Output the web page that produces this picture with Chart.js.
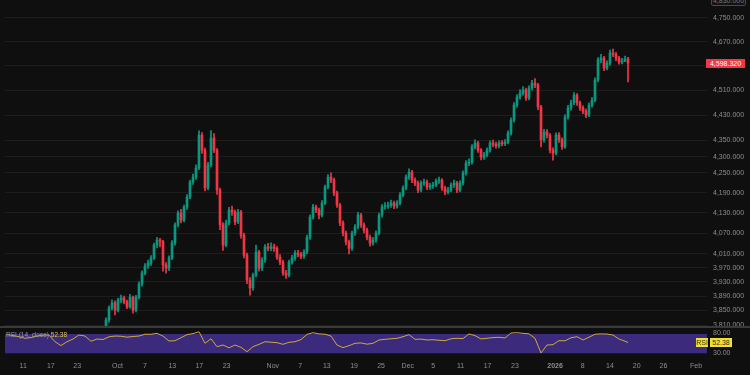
<!DOCTYPE html>
<html>
<head>
<meta charset="utf-8">
<script src="https://cdn.jsdelivr.net/npm/chart.js@4.4.1/dist/chart.umd.min.js"></script>
<style>
  body { margin: 0; background: #0f0f0f; }
  #wrap { position: relative; width: 750px; height: 375px; overflow: hidden; background: #0f0f0f;
          font-family: "Liberation Sans", Arial, sans-serif; }
  #mainBox { position: absolute; left: 0; top: 0; width: 750px; height: 327px; }
  #rsiBox { position: absolute; left: 0; top: 327px; width: 750px; height: 48px; }
  #sep { position: absolute; left: 0; top: 326px; width: 750px; height: 2px; background: #3a3a3a; }
  .tag { position: absolute; font-size: 7px; line-height: 9px; height: 9px; text-align: center; white-space: nowrap; }
  #priceTag { left: 706px; width: 39px; background: #f23645; color: #fff; }
  #topTag { left: 711px; top: -5px; width: 33px; border: 1px solid #4a4a4a; border-radius: 2px; color: #777; background: #141414; }
  #rsiName { left: 696px; width: 12px; background: #ece03a; color: #3b3500; }
  #rsiVal { left: 710px; width: 22px; background: #ece03a; color: #3b3500; }
  #rsiLegend { position: absolute; left: 6px; top: 331px; font-size: 6.5px; line-height: 8px; color: #9a9a9a; white-space: nowrap; }
  #rsiLegend span { color: #d9c43c; }
</style>
</head>
<body>
<div id="wrap">
  <div id="mainBox"><canvas id="main" width="750" height="327"></canvas></div>
  <div id="rsiBox"><canvas id="rsi" width="750" height="48"></canvas></div>
  <div id="sep"></div>
  <div id="topTag" class="tag">4,830.000</div>
  <div id="priceTag" class="tag"></div>
  <div id="rsiLegend">RSI (14, close) <span id="rsiLegendVal"></span></div>
  <div id="rsiName" class="tag">RSI</div>
  <div id="rsiVal" class="tag"></div>
</div>
<script>
// candles, one per slot starting at firstSlot
const firstSlot = 32;
const opens = [
  3770,3783,3796,3824,3857,3871,3851,3879,3885,3874,
  3860,3887,3851,3887,3924,3955,3975,3983,3998,4035,
  4050,4046,3978,3969,3998,4041,4094,4129,4108,4147,
  4177,4222,4237,4265,4367,4320,4204,4274,4358,4320,
  4198,4094,4035,4100,4138,4132,4103,4132,4064,4006,
  3935,3913,3949,4015,3969,3992,4030,4026,4030,4026,
  4000,3986,3955,3949,3986,3998,4012,4008,4003,4015,
  4058,4117,4147,4138,4123,4159,4207,4237,4228,4189,
  4153,4100,4070,4044,4026,4070,4088,4123,4094,4079,
  4058,4041,4050,4070,4123,4147,4150,4153,4159,4150,
  4159,4183,4204,4237,4252,4228,4219,4198,4219,4222,
  4207,4210,4213,4225,4228,4204,4192,4198,4213,4219,
  4198,4219,4249,4280,4283,4330,4342,4320,4298,4305,
  4320,4342,4338,4333,4342,4340,4345,4373,4414,4462,
  4488,4501,4511,4485,4517,4533,4527,4456,4352,4377,
  4367,4320,4311,4367,4352,4330,4424,4453,4469,4494,
  4469,4453,4443,4430,4462,4478,4543,4609,4615,4582,
  4598,4632,4628,4615,4602,4606,4612
];
const highs = [
  3790,3803,3830,3863,3880,3877,3884,3893,3890,3879,
  3895,3890,3892,3930,3961,3982,3992,4005,4041,4058,
  4055,4049,3985,4004,4048,4100,4136,4140,4153,4184,
  4228,4246,4275,4380,4375,4326,4282,4381,4372,4325,
  4204,4101,4108,4146,4150,4138,4140,4137,4070,4012,
  3942,3955,4035,4020,3999,4037,4040,4042,4038,4031,
  4008,3992,3963,3992,4006,4019,4020,4014,4022,4064,
  4124,4155,4153,4144,4166,4213,4245,4250,4234,4195,
  4158,4106,4076,4050,4076,4095,4131,4128,4100,4085,
  4064,4058,4077,4129,4154,4160,4162,4168,4165,4166,
  4190,4211,4244,4262,4258,4235,4225,4226,4231,4228,
  4218,4221,4232,4237,4233,4210,4206,4220,4228,4224,
  4226,4256,4288,4293,4337,4352,4347,4325,4313,4327,
  4349,4351,4345,4349,4350,4353,4380,4421,4470,4496,
  4512,4522,4517,4524,4542,4548,4532,4461,4385,4384,
  4372,4327,4374,4375,4358,4431,4461,4478,4502,4499,
  4475,4460,4449,4469,4487,4550,4617,4628,4621,4606,
  4642,4645,4634,4621,4614,4622,4618
];
const lows = [
  3765,3778,3790,3818,3852,3838,3846,3872,3868,3855,
  3856,3843,3846,3882,3918,3950,3968,3977,3993,4028,
  4030,3960,3955,3962,3993,4035,4088,4100,4103,4140,
  4172,4215,4230,4260,4310,4195,4198,4268,4312,4185,
  4080,4020,4030,4094,4122,4095,4098,4055,3998,3925,
  3893,3906,3944,3960,3962,3985,4018,4019,4017,3994,
  3979,3948,3940,3944,3980,3991,4001,3996,3997,4010,
  4052,4111,4130,4112,4118,4154,4201,4220,4181,4146,
  4092,4062,4036,4010,4020,4063,4082,4087,4071,4050,
  4032,4035,4044,4065,4117,4140,4143,4146,4142,4144,
  4153,4177,4198,4230,4220,4211,4190,4192,4212,4199,
  4200,4203,4207,4218,4197,4184,4186,4192,4206,4190,
  4192,4213,4243,4272,4277,4324,4313,4290,4291,4299,
  4314,4331,4326,4327,4333,4334,4339,4367,4408,4455,
  4481,4494,4477,4479,4510,4518,4447,4330,4345,4358,
  4311,4289,4305,4344,4322,4325,4417,4446,4463,4461,
  4445,4435,4422,4425,4455,4472,4537,4600,4574,4576,
  4592,4620,4607,4595,4596,4603,4537
];
const closes = [
  3783,3796,3824,3857,3871,3851,3879,3885,3874,3860,
  3887,3851,3887,3924,3955,3975,3983,3998,4035,4050,
  4046,3978,3969,3998,4041,4094,4129,4108,4147,4177,
  4222,4237,4265,4367,4320,4204,4274,4358,4320,4198,
  4094,4035,4100,4138,4132,4103,4132,4064,4006,3935,
  3913,3949,4015,3969,3992,4030,4026,4030,4026,4000,
  3986,3955,3949,3986,3998,4012,4008,4003,4015,4058,
  4117,4147,4138,4123,4159,4207,4237,4228,4189,4153,
  4100,4070,4044,4026,4070,4088,4123,4094,4079,4058,
  4041,4050,4070,4123,4147,4150,4153,4159,4150,4159,
  4183,4204,4237,4252,4228,4219,4198,4219,4222,4207,
  4210,4213,4225,4228,4204,4192,4198,4213,4219,4198,
  4219,4249,4280,4283,4330,4342,4320,4298,4305,4320,
  4342,4338,4333,4342,4340,4345,4373,4414,4462,4488,
  4501,4511,4485,4517,4533,4527,4456,4352,4377,4367,
  4320,4311,4367,4352,4330,4424,4453,4469,4494,4469,
  4453,4443,4430,4462,4478,4543,4609,4615,4582,4598,
  4632,4628,4615,4602,4606,4612,4598.32
];

// RSI(14) sampled every second slot from slot 1, last point at slot 208
const rsiValues = [
  69.0,66.7,64.4,61.1,62.6,65.8,67.9,67.5,54.0,46.0,
  54.0,59.6,67.9,65.8,55.0,59.6,58.6,64.2,65.8,65.4,
  63.4,64.8,65.8,69.6,69.4,71.4,65.8,55.5,56.1,62.3,
  68.7,70.8,74.6,50.7,60.1,43.7,47.2,41.4,47.2,42.4,
  33.3,43.7,48.6,54.0,53.0,52.0,48.6,52.8,54.0,58.4,
  69.2,72.7,70.2,69.6,65.8,47.2,41.8,45.8,50.7,51.5,
  48.9,50.7,57.6,59.0,60.1,61.1,64.4,68.6,59.0,59.4,
  57.6,58.2,57.0,56.1,60.1,61.1,60.5,70.2,66.7,59.8,
  61.1,62.6,63.2,61.7,72.1,72.7,71.4,70.4,61.1,30.6,
  47.2,48.0,56.2,55.9,62.2,64.4,57.6,63.4,69.6,70.2,
  70.0,67.9,59.6,55.0,52.38
];
const rsiSlots = rsiValues.map((v, i) => i < rsiValues.length - 1 ? 1 + 2 * i : 208);

const priceTicks = [4750, 4670, 4590, 4510, 4430, 4350, 4300, 4250, 4190, 4130, 4070, 4010, 3970, 3930, 3890, 3850, 3810];
const rsiTicks = [80, 30];
const rsiBand = [70, 30];
const dateLabels = ['11','17','23','Oct','7','13','17','23','Nov','7','13','19','25','Dec','5','11','17','23','2026','8','14','20','26','Feb'];
const dateSlots = [6.4,15.6,24.4,37.8,47,56.1,65.1,74.2,89.6,98.7,107.6,116.7,125.7,134.6,143.1,152.2,161.2,170.3,183.7,192.9,202,210.9,219.8,230.7];

const xMin = 1 / 3, xMax = 234.33;
const upColor = '#089981', downColor = '#f23645';
const tickColor = '#8e8e8e';
const gridColor = 'rgba(255,255,255,0.06)';
const fontFamily = '"Liberation Sans", Arial, sans-serif';

let candleColors = closes.map((c, i) => c >= opens[i] ? upColor : downColor);
let wickData = closes.map((c, i) => ({ x: firstSlot + i, y: [lows[i], highs[i]] }));
let bodyData = closes.map((c, i) => ({ x: firstSlot + i, y: [opens[i], c] }));

function fmtPrice(v) {
  return v.toLocaleString('en-US', { minimumFractionDigits: 3, maximumFractionDigits: 3 });
}

// keep the y axes from pushing the plot area in for their labels
function fixRightAxis(s) {
  s.width = 43;
  s.paddingTop = 0;
  s.paddingBottom = 0;
}

var mainChart = new Chart(document.getElementById('main'), {
  type: 'bar',
  data: {
    datasets: [
      { data: wickData, backgroundColor: candleColors, barThickness: 1, grouped: false },
      { data: bodyData, backgroundColor: candleColors, barThickness: 2, grouped: false, minBarLength: 1 }
    ]
  },
  options: {
    responsive: false,
    animation: false,
    layout: { padding: { left: 5, top: 0, right: 0, bottom: 0 } },
    plugins: { legend: { display: false }, tooltip: { enabled: false } },
    scales: {
      x: { type: 'linear', min: xMin, max: xMax, offset: false, display: false },
      y: {
        type: 'logarithmic',
        position: 'right',
        min: 3804.7,
        max: 4811.8,
        afterBuildTicks: s => { s.ticks = priceTicks.map(v => ({ value: v })); },
        afterFit: fixRightAxis,
        grid: { color: gridColor, drawTicks: false, tickLength: 0 },
        border: { display: false },
        ticks: { color: tickColor, padding: 6, font: { size: 7, family: fontFamily }, callback: v => fmtPrice(v) }
      }
    }
  }
});

const bandPlugin = {
  id: 'band',
  beforeDatasetsDraw(chart) {
    const { ctx, chartArea: a, scales: { y } } = chart;
    const t = y.getPixelForValue(rsiBand[0]), b = y.getPixelForValue(rsiBand[1]);
    ctx.save();
    ctx.fillStyle = '#3c2a7c';
    ctx.fillRect(a.left, t, a.right - a.left, b - t);
    ctx.restore();
  }
};

var rsiChart = new Chart(document.getElementById('rsi'), {
  type: 'line',
  data: {
    datasets: [{
      data: rsiValues.map((v, i) => ({ x: rsiSlots[i], y: v })),
      borderColor: '#c9aa3c', borderWidth: 1, pointRadius: 0, tension: 0
    }]
  },
  options: {
    responsive: false,
    animation: false,
    layout: { padding: { left: 5, top: 2, right: 0, bottom: 0 } },
    plugins: { legend: { display: false }, tooltip: { enabled: false } },
    scales: {
      x: {
        type: 'linear', min: xMin, max: xMax, offset: false,
        afterBuildTicks: s => { s.ticks = dateSlots.map(v => ({ value: v })); },
        afterFit: s => { s.height = 18; s.paddingLeft = 0; s.paddingRight = 0; },
        grid: { display: false, drawTicks: false, tickLength: 0 },
        border: { display: false },
        ticks: {
          autoSkip: false, maxRotation: 0, padding: 5, color: tickColor,
          font: ctx => ({ size: 7, family: fontFamily, weight: dateLabels[ctx.index] === '2026' ? 'bold' : 'normal' }),
          callback: (v, i) => dateLabels[i]
        }
      },
      y: {
        position: 'right', min: 22.3, max: 80.4,
        afterBuildTicks: s => { s.ticks = rsiTicks.map(v => ({ value: v })); },
        afterFit: fixRightAxis,
        grid: { display: false, drawTicks: false, tickLength: 0 },
        border: { display: false },
        // the top label sits at the pane edge, so push it down one half line like the original
        ticks: { color: tickColor, padding: 6, font: { size: 7, family: fontFamily },
                 callback: v => v === rsiTicks[0] ? ['', v.toFixed(2)] : v.toFixed(2) }
      }
    }
  },
  plugins: [bandPlugin]
});

// last-value tags
let lastClose = closes[closes.length - 1];
let priceTag = document.getElementById('priceTag');
priceTag.textContent = fmtPrice(lastClose);
priceTag.style.top = (mainChart.scales.y.getPixelForValue(lastClose) - 4.5) + 'px';

let lastRsi = rsiValues[rsiValues.length - 1];
let rsiTop = 327 + rsiChart.scales.y.getPixelForValue(lastRsi) - 4.5;
document.getElementById('rsiVal').textContent = lastRsi.toFixed(2);
document.getElementById('rsiVal').style.top = rsiTop + 'px';
document.getElementById('rsiName').style.top = rsiTop + 'px';
document.getElementById('rsiLegendVal').textContent = lastRsi.toFixed(2);
</script>
</body>
</html>
